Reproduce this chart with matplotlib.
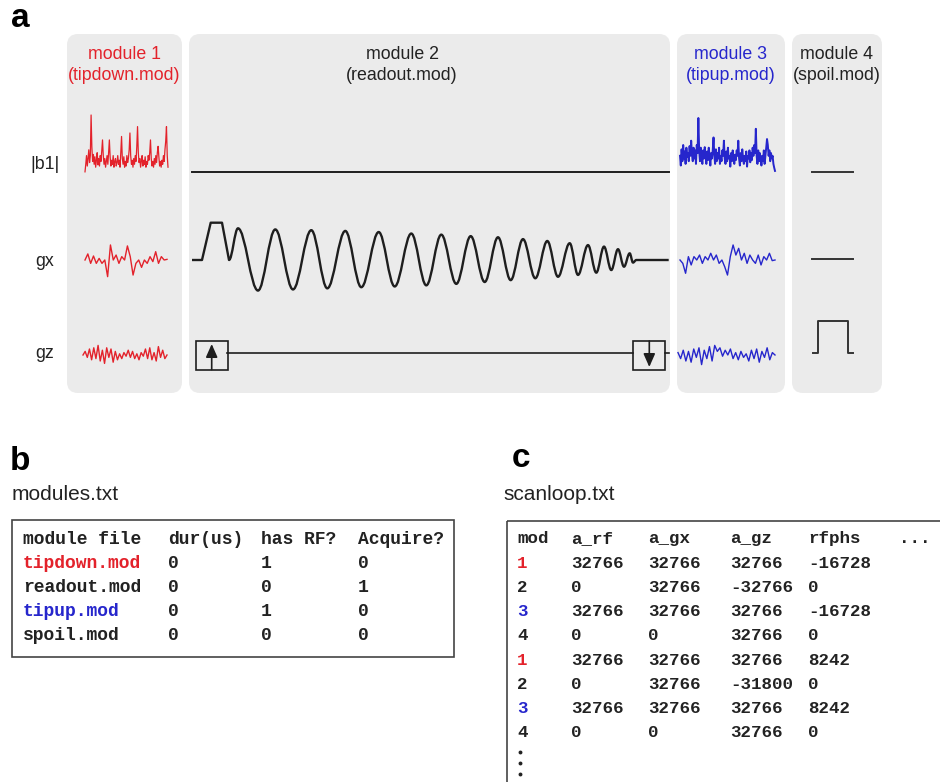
import numpy as np
import matplotlib.pyplot as plt
from matplotlib.patches import FancyBboxPatch, Rectangle, PathPatch
from matplotlib.path import Path

RED = '#e3222b'
BLUE = '#2626cc'
INK = '#1e1e1e'
PANEL = '#ebebeb'

# waveforms (arbitrary units, b1 peak = 1)
m1_b1 = [0.02, 0.15, 0.3, 0.12, 0.25, 0.4, 0.18, 0.3, 1.0, 0.45,
         0.2, 0.32, 0.15, 0.28, 0.1, 0.22, 0.35, 0.14, 0.25, 0.12,
         0.3, 0.2, 0.38, 0.57, 0.3, 0.15, 0.25, 0.1, 0.2, 0.3,
         0.15, 0.35, 0.57, 0.28, 0.12, 0.22, 0.15, 0.3, 0.1, 0.2,
         0.25, 0.12, 0.18, 0.3, 0.15, 0.22, 0.1, 0.35, 0.63, 0.25,
         0.15, 0.28, 0.1, 0.2, 0.12, 0.3, 0.18, 0.25, 0.4, 0.69,
         0.3, 0.15, 0.22, 0.1, 0.25, 0.15, 0.3, 0.2, 0.45, 0.8,
         0.35, 0.18, 0.25, 0.1, 0.2, 0.3, 0.12, 0.22, 0.15, 0.28,
         0.1, 0.2, 0.15, 0.3, 0.22, 0.35, 0.57, 0.25, 0.12, 0.2,
         0.1, 0.25, 0.15, 0.3, 0.18, 0.35, 0.46, 0.28, 0.12, 0.2,
         0.1, 0.22, 0.15, 0.3, 0.2, 0.4, 0.55, 0.8, 0.3, 0.1]
m1_gx = [0, 0.38, -0.21, 0.25, -0.21, 0.1, -0.21, 0, -1.04, 0.94, 0, 0.31,
         -0.21, 0.21, 0, 0.88, 0.21, -0.94, -0.21, 0, -0.46, 0, -0.21, 0.21,
         -0.1, 0.52, -0.21, 0.21, 0, 0.04]
m1_gz = [0.0, 0.3, -0.2, 0.5, -0.4, 0.6, -0.3, 0.8, -0.5, 0.4, -0.7, 0.6,
         -0.2, 0.5, -0.6, 0.3, -0.4, 0.1, -0.3, 0.2, -0.1, 0.4, -0.2, 0.3,
         -0.3, 0.1, -0.4, 0.2, -0.1, 0.5, -0.3, 0.6, -0.4, 0.2, -0.5, 0.7,
         -0.2, 0.4, -0.3, 0.0]

m3_b1 = [0.3, 0.12, 0.42, 0.2, 0.5, 0.25, 0.38, 0.15, 0.45, 0.28,
         0.35, 0.2, 0.48, 0.3, 0.58, 0.32, 0.2, 0.45, 0.25, 0.4,
         0.15, 0.5, 0.35, 1.0, 0.4, 0.2, 0.45, 0.3, 0.15, 0.4,
         0.25, 0.46, 0.3, 0.15, 0.38, 0.22, 0.45, 0.3, 0.12, 0.35,
         0.25, 0.4, 0.64, 0.3, 0.15, 0.42, 0.2, 0.35, 0.25, 0.45,
         0.15, 0.3, 0.2, 0.4, 0.3, 0.58, 0.25, 0.15, 0.38, 0.2,
         0.45, 0.25, 0.3, 0.1, 0.35, 0.2, 0.4, 0.28, 0.15, 0.32,
         0.22, 0.4, 0.3, 0.58, 0.25, 0.12, 0.35, 0.2, 0.42, 0.25,
         0.15, 0.3, 0.2, 0.38, 0.1, 0.3, 0.25, 0.4, 0.18, 0.35,
         0.22, 0.45, 0.3, 0.5, 0.35, 0.8, 0.3, 0.15, 0.4, 0.2,
         0.35, 0.25, 0.12, 0.3, 0.2, 0.4, 0.15, 0.3, 0.45, 0.61,
         0.5, 0.3, 0.4, 0.2, 0.35, 0.25, 0.3, 0.15, 0.08, 0.02]
m3_gx = [0, -0.21, -0.83, 0.21, -0.31, 0.21, 0, 0.31, -0.21, 0.21, 0, 0.42,
         0, 0.31, -0.21, 0, -0.42, -0.94, 0.21, 0.94, 0.31, 0.73, 0, 0.42,
         -0.21, 0.31, 0, -0.21, 0.31, -0.31, 0.21, 0, 0.42, -0.04, 0]
m3_gz = [0.2, -0.3, 0.4, -0.5, 0.3, -0.6, 0.5, -0.2, 0.6, -0.8, 0.4, -0.3,
         0.7, -0.5, 0.8, 0.3, 0.6, -0.1, 0.4, 0.0, 0.5, -0.3, 0.2, -0.4, 0.3,
         -0.2, 0.1, -0.5, 0.4, -0.3, 0.5, -0.6, 0.3, -0.2, 0.6, -0.4, 0.2, 0.0]

# readout gx: prewinder corners, then extrema of the chirped oscillation
ro_pre_t = [0, 10, 18.7, 30, 37]
ro_pre_a = [0, 0, 1, 1, 0]
ro_ext_t = [46, 66, 83.3, 101, 119.3, 135.3, 153.3, 169.3, 186.7, 202.7,
            219.3, 234.3, 249.3, 264.3, 278.7, 292.7, 306, 318.7, 331, 343.3,
            355.3, 366, 377.7, 386, 396, 404.3, 412, 419.3, 426, 432, 437.7,
            441, 444.3]
ro_ext_a = [0.85, -0.82, 0.82, -0.79, 0.80, -0.76, 0.78, -0.73, 0.75, -0.71,
            0.71, -0.68, 0.68, -0.64, 0.64, -0.59, 0.61, -0.54, 0.56, -0.49,
            0.51, -0.45, 0.45, -0.40, 0.40, -0.34, 0.36, -0.27, 0.29, -0.18,
            0.18, -0.07, 0.0]
ro_end_t = 476.7

spoil_t = [0, 5, 5, 35, 35, 40.6]
spoil_a = [0, 0, 1, 1, 0, 0]

# text files
mod_header = ['module file', 'dur(us)', 'has RF?', 'Acquire?']
mod_files = ['tipdown.mod', 'readout.mod', 'tipup.mod', 'spoil.mod']
mod_dur = ['0', '0', '0', '0']
mod_rf = ['1', '0', '1', '0']
mod_acq = ['0', '1', '0', '0']

loop_header = ['mod', 'a_rf', 'a_gx', 'a_gz', 'rfphs', '...']
loop_mod = [1, 2, 3, 4, 1, 2, 3, 4]
loop_arf = [32766, 0, 32766, 0, 32766, 0, 32766, 0]
loop_agx = [32766, 32766, 32766, 0, 32766, 32766, 32766, 0]
loop_agz = [32766, -32766, 32766, 32766, 32766, -31800, 32766, 32766]
loop_rfphs = [-16728, 0, -16728, 0, 8242, 0, 8242, 0]

mod_colors = {1: RED, 3: BLUE}
file_colors = {'tipdown.mod': RED, 'tipup.mod': BLUE}

fig = plt.figure(figsize=(9.4, 7.82), dpi=100)
ax = fig.add_axes([0, 0, 1, 1])
ax.set_xlim(0, 940)
ax.set_ylim(782, 0)
ax.axis('off')

SANS = 'Liberation Sans'
MONO = 'Liberation Mono'


def trace(vals, x0, x1, y0, scale, color, lw):
    v = np.asarray(vals, float)
    x = np.linspace(x0, x1, len(v))
    ax.plot(x, y0 - scale * v, color=color, lw=lw, solid_joinstyle='round')


# ---- panel a ----
ax.text(11, 27, 'a', fontsize=24, fontweight='bold', family=SANS, va='baseline')

panels = [(67, 182), (189, 670), (677, 785), (792, 882)]
for x0, x1 in panels:
    ax.add_patch(FancyBboxPatch((x0, 34), x1 - x0, 359,
                                boxstyle='round,pad=0,rounding_size=11',
                                fc=PANEL, ec='none'))

titles = [(124.5, 'module 1', '(tipdown.mod)', RED),
          (402, 'module 2', '(readout.mod)', '#222222'),
          (731, 'module 3', '(tipup.mod)', BLUE),
          (837, 'module 4', '(spoil.mod)', '#222222')]
for xc, l1, l2, c in titles:
    ax.text(xc, 59, l1, fontsize=12.8, family=SANS, color=c, ha='center', va='baseline')
    ax.text(xc, 80, l2, fontsize=12.8, family=SANS, color=c, ha='center', va='baseline')

for y, lab in [(169, '|b1|'), (266, 'gx'), (358, 'gz')]:
    ax.text(45, y, lab, fontsize=12.8, family=SANS, color='#222222',
            ha='center', va='baseline')

Y_B1, Y_GX, Y_GZ = 172, 260, 353

# module 1 (tipdown)
trace(m1_b1, 85, 168, Y_B1 + 1, 58, RED, 0.9)
trace(m1_gx, 85, 167, Y_GX, 16, RED, 1.0)
trace(m1_gz, 83, 167, Y_GZ + 2, 12, RED, 1.0)

# module 2 (readout)
ax.plot([192, 669], [Y_B1, Y_B1], color=INK, lw=1.4)

X0, S = 192, 37.3
verts = [(X0 + t, Y_GX - S * a) for t, a in zip(ro_pre_t, ro_pre_a)]
codes = [Path.MOVETO] + [Path.LINETO] * (len(ro_pre_t) - 1)
pt, pa = ro_pre_t[-1], ro_pre_a[-1]
k = 0.364
for t, a in zip(ro_ext_t, ro_ext_a):
    dt = t - pt
    verts += [(X0 + pt + k * dt, Y_GX - S * pa),
              (X0 + t - k * dt, Y_GX - S * a),
              (X0 + t, Y_GX - S * a)]
    codes += [Path.CURVE4] * 3
    pt, pa = t, a
verts.append((X0 + ro_end_t, Y_GX))
codes.append(Path.LINETO)
ax.add_patch(PathPatch(Path(verts, codes), fc='none', ec=INK, lw=1.7,
                       joinstyle='round'))

# gz: blips at start and end of the readout
ax.plot([227, 633], [Y_GZ, Y_GZ], color=INK, lw=1.2)
ax.plot([665, 669], [Y_GZ, Y_GZ], color=INK, lw=1.2)
for bx in (196, 633):
    ax.add_patch(Rectangle((bx, 341), 31.5, 28.5, fc='none', ec=INK, lw=1.2))
ax.annotate('', xy=(211.7, 344), xytext=(211.7, 369.5),
            arrowprops=dict(arrowstyle='-|>,head_length=0.5,head_width=0.22',
                            color=INK, lw=1.2, mutation_scale=16,
                            shrinkA=0, shrinkB=0))
ax.annotate('', xy=(649.3, 367), xytext=(649.3, 341),
            arrowprops=dict(arrowstyle='-|>,head_length=0.5,head_width=0.22',
                            color=INK, lw=1.2, mutation_scale=16,
                            shrinkA=0, shrinkB=0))

# module 3 (tipup)
trace(m3_b1, 680, 775, Y_B1, 54, BLUE, 1.4)
trace(m3_gx, 680, 775, Y_GX, 16, BLUE, 1.0)
trace(m3_gz, 678, 775, Y_GZ + 2, 12, BLUE, 1.0)

# module 4 (spoiler)
ax.plot([812, 853], [Y_B1, Y_B1], color='#333333', lw=1.4)
ax.plot([812, 853], [Y_GX - 1, Y_GX - 1], color='#333333', lw=1.4)
ax.plot(812.7 + np.asarray(spoil_t), Y_GZ - 32 * np.asarray(spoil_a),
        color='#333333', lw=1.4)

# ---- panel b ----
ax.text(10, 470, 'b', fontsize=24, fontweight='bold', family=SANS, va='baseline')
ax.text(12, 500, 'modules.txt', fontsize=15, family=SANS, color='#222222', va='baseline')
ax.add_patch(Rectangle((12, 520), 442, 137, fc='none', ec='#444444', lw=1.2))

mod_cols = [23, 168, 261, 358]
row_y = [544 + 24 * i for i in range(5)]
for x, h in zip(mod_cols, mod_header):
    ax.text(x, row_y[0], h, fontsize=13, family=MONO, fontweight='bold',
            color='#222222', va='baseline')
for i, (f, d, rf, aq) in enumerate(zip(mod_files, mod_dur, mod_rf, mod_acq)):
    y = row_y[i + 1]
    cells = [(f, file_colors.get(f, '#222222')), (d, '#222222'),
             (rf, '#222222'), (aq, '#222222')]
    for x, (s, c) in zip(mod_cols, cells):
        ax.text(x, y, s, fontsize=13, family=MONO, fontweight='bold',
                color=c, va='baseline')

# ---- panel c ----
ax.text(512, 467, 'c', fontsize=24, fontweight='bold', family=SANS, va='baseline')
ax.text(503, 500, 'scanloop.txt', fontsize=15, family=SANS, color='#222222', va='baseline')
ax.add_patch(Rectangle((507, 521), 600, 400, fc='none', ec='#444444', lw=1.2))

loop_cols = [517, 571, 648, 730, 808, 899]
ly = [543.3 + 24.25 * i for i in range(9)]
for x, h in zip(loop_cols, loop_header):
    ax.text(x, ly[0], h, fontsize=12.6, family=MONO, fontweight='bold',
            color='#222222', va='baseline')
rows = zip(loop_mod, loop_arf, loop_agx, loop_agz, loop_rfphs)
for i, (m, arf, agx, agz, ph) in enumerate(rows):
    y = ly[i + 1]
    ax.text(loop_cols[0], y, str(m), fontsize=12.6, family=MONO, fontweight='bold',
            color=mod_colors.get(m, '#222222'), va='baseline')
    for x, v in zip(loop_cols[1:5], (arf, agx, agz, ph)):
        ax.text(x, y, str(v), fontsize=12.6, family=MONO, fontweight='bold',
                color='#222222', va='baseline')
for y in (751.7, 762.7, 774):
    ax.plot(loop_cols[0] + 3, y, 'o', ms=2.8, color='#222222', mec='none')

fig.savefig('out.png', dpi=100)
